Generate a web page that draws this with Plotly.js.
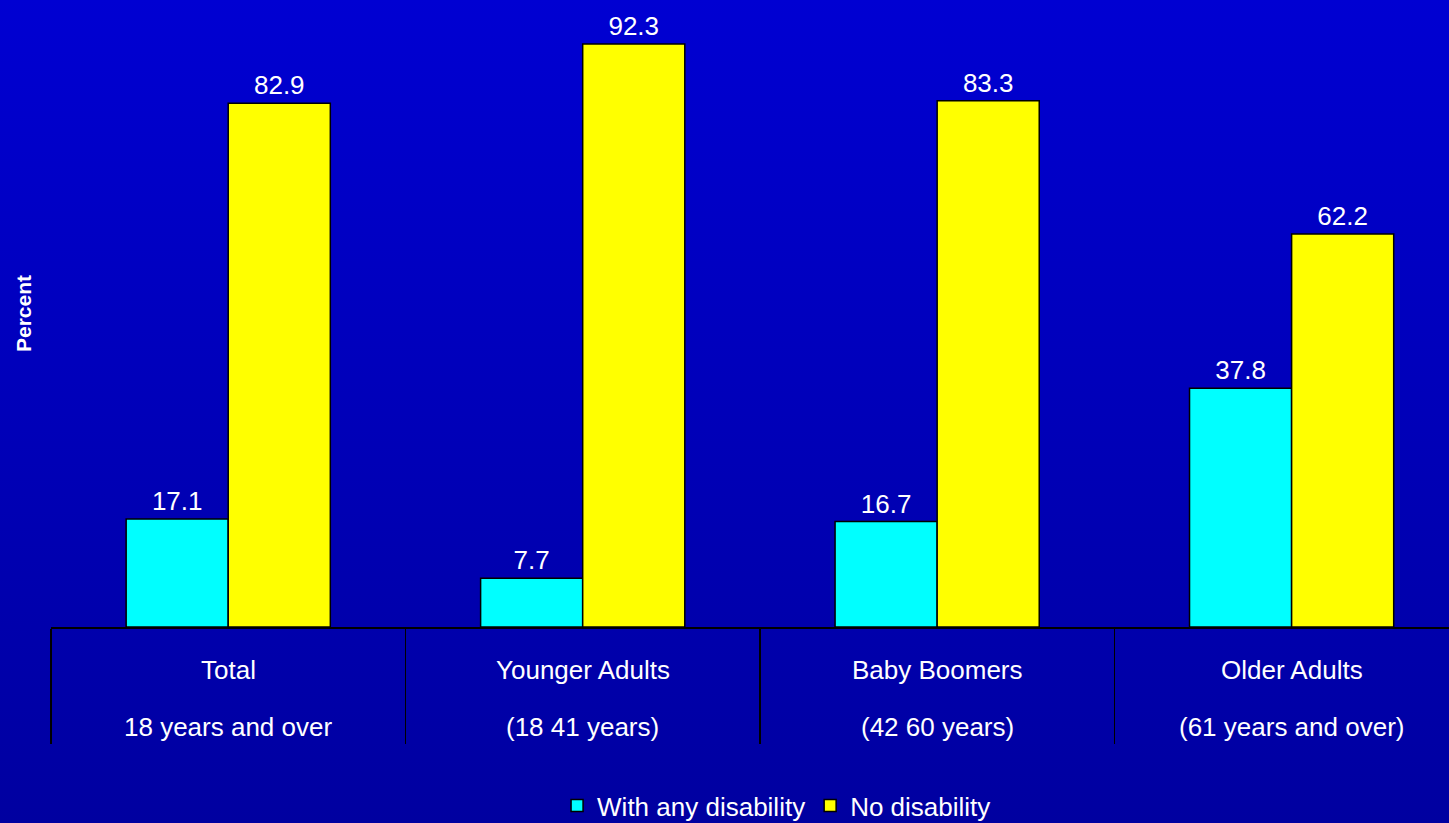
<!DOCTYPE html>
<html>
<head>
<meta charset="utf-8">
<script src="https://cdn.plot.ly/plotly-3.0.1.min.js"></script>
<style>
  html, body { margin: 0; padding: 0; }
  #chart { width: 1449px; height: 823px; background: linear-gradient(to bottom, #0000D2 0%, #0000A0 100%); }
</style>
</head>
<body>
<div id="chart"></div>
<script>
const categories = ['Total', 'Younger Adults', 'Baby Boomers', 'Older Adults'];
const subLabels = ['18 years and over', '(18 41 years)', '(42 60 years)', '(61 years and over)'];
const withDisability = [17.1, 7.7, 16.7, 37.8];
const noDisability = [82.9, 92.3, 83.3, 62.2];
const seriesNames = ['With any disability', 'No disability'];

const FONT = 'Liberation Sans, Arial, sans-serif';

const traces = [
  {
    type: 'bar', name: seriesNames[0], x: categories, y: withDisability,
    text: withDisability.map(v => v.toFixed(1)), textposition: 'outside', cliponaxis: false,
    textfont: {color: '#FFFFFF', size: 26, family: FONT},
    marker: {color: '#00FFFF', line: {color: '#000000', width: 1.5}}
  },
  {
    type: 'bar', name: seriesNames[1], x: categories, y: noDisability,
    text: noDisability.map(v => v.toFixed(1)), textposition: 'outside', cliponaxis: false,
    textfont: {color: '#FFFFFF', size: 26, family: FONT},
    marker: {color: '#FFFF00', line: {color: '#000000', width: 1.5}}
  }
];

const annotations = [];
categories.forEach((c, i) => {
  annotations.push({x: c, xref: 'x', y: 0, yref: 'paper', yanchor: 'middle', yshift: -43,
    text: c, showarrow: false, font: {color: '#FFFFFF', size: 26, family: FONT}});
  annotations.push({x: c, xref: 'x', y: 0, yref: 'paper', yanchor: 'middle', yshift: -100,
    text: subLabels[i], showarrow: false, font: {color: '#FFFFFF', size: 26, family: FONT}});
});

const layout = {
  width: 1449, height: 823,
  margin: {l: 51, r: 0, t: 0, b: 196, autoexpand: false},
  paper_bgcolor: 'rgba(0,0,0,0)', plot_bgcolor: 'rgba(0,0,0,0)',
  barmode: 'group', bargap: 0.424, bargroupgap: 0,
  font: {family: FONT, color: '#FFFFFF'},
  xaxis: {
    type: 'category', categoryorder: 'array', categoryarray: categories,
    range: [-0.5, 3.444], showgrid: false, zeroline: false,
    showline: true, linecolor: '#000000', linewidth: 1.5,
    ticks: 'outside', tickson: 'boundaries', ticklen: 115, tickwidth: 1.5, tickcolor: '#000000',
    showticklabels: false, fixedrange: true
  },
  yaxis: {
    range: [0, 99.26], showgrid: false, zeroline: false, showline: false,
    showticklabels: false, ticks: '',
    title: {text: '<b>Percent</b>', font: {size: 21, color: '#FFFFFF', family: FONT}, standoff: 12}
  },
  showlegend: true,
  legend: {
    orientation: 'h', x: 0.519, xanchor: 'center', y: -0.285, yanchor: 'middle',
    font: {size: 26, color: '#FFFFFF', family: FONT}, bgcolor: 'rgba(0,0,0,0)',
    itemwidth: 30
  },
  annotations: annotations
};

Plotly.newPlot('chart', traces, layout, {displayModeBar: false, staticPlot: true});
</script>
</body>
</html>
